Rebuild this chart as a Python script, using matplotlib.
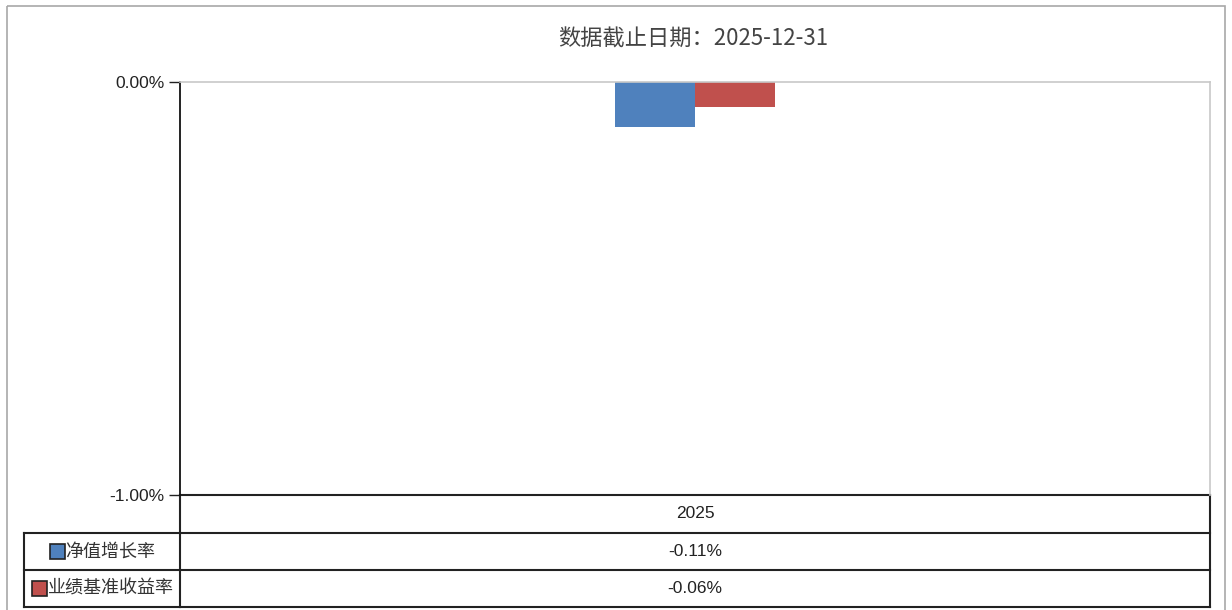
import matplotlib
matplotlib.use("Agg")
import matplotlib.pyplot as plt
from matplotlib.patches import Rectangle

plt.rcParams['font.family'] = ['Noto Sans CJK SC', 'DejaVu Sans']

title = "数据截止日期：2025-12-31"
years = ["2025"]
series_names = ["净值增长率", "业绩基准收益率"]
nav_growth = [-0.11]
benchmark = [-0.06]
series_values = [nav_growth, benchmark]
series_colors = ["#4F81BD", "#C0504D"]
y_ticks = [0.0, -1.0]

W, H = 1232, 610
fig = plt.figure(figsize=(W / 100, H / 100), dpi=100)


def px_axes(x0, y0, x1, y1):
    # pixel box (top-left origin) -> figure fraction
    return [x0 / W, (H - y1) / H, (x1 - x0) / W, (y1 - y0) / H]


# overlay in pixel units for border, title and table
ov = fig.add_axes([0, 0, 1, 1], zorder=0)
ov.set_xlim(0, W)
ov.set_ylim(H, 0)
ov.axis('off')
ov.add_patch(Rectangle((7, 6), 1218, 610, fill=False, edgecolor="#A8A8A8", lw=1.2))

ax_l, ax_t, ax_r, ax_b = 180, 82, 1210, 495
ax = fig.add_axes(px_axes(ax_l, ax_t, ax_r, ax_b), zorder=1)
ax.patch.set_alpha(0)

bar_w = 0.078
for i in range(len(years)):
    ax.bar(i - bar_w / 2, series_values[0][i], bar_w, color=series_colors[0], zorder=2)
    ax.bar(i + bar_w / 2, series_values[1][i], bar_w, color=series_colors[1], zorder=2)

ax.set_xlim(-0.5, len(years) - 0.5)
ax.set_ylim(-1.0, 0.0)
ax.set_xticks([])
ax.set_yticks(y_ticks)
ax.set_yticklabels([f"{v:.2f}%" for v in y_ticks], family='Liberation Sans', fontsize=12.5, color="#222222")
ax.tick_params(axis='y', direction='out', length=8, width=1, pad=3, color="#222222")
ax.spines['left'].set_color('#111111')
ax.spines['left'].set_linewidth(1.3)
for s in ['top', 'right']:
    ax.spines[s].set_color('#C8C8C8')
    ax.spines[s].set_linewidth(1.2)
ax.spines['bottom'].set_visible(False)

ov.text((ax_l + ax_r) / 2 - 2, 39, title, ha='center', va='center', fontsize=16, color="#444444")

# data table below the plot
row_y = [495, 533, 570, 607]
left_col = 24
line_kw = dict(color="#222222", lw=1.5)
for y in row_y:
    ov.plot([ax_l, ax_r], [y, y], **line_kw)
for y in row_y[1:]:
    ov.plot([left_col, ax_l], [y, y], **line_kw)
ov.plot([ax_l, ax_l], [ax_b, row_y[-1]], **line_kw)
ov.plot([ax_r, ax_r], [row_y[0], row_y[-1]], **line_kw)
ov.plot([left_col, left_col], [row_y[1], row_y[-1]], **line_kw)

cx = (ax_l + ax_r) / 2
ov.text(cx, (row_y[0] + row_y[1]) / 2, years[0], ha='center', va='center',
        family='Liberation Sans', fontsize=12.5, color="#222222")

char_w, sq = 18, 15
for k, (name, vals, col) in enumerate(zip(series_names, series_values, series_colors)):
    yc = (row_y[k + 1] + row_y[k + 2]) / 2
    ov.text(cx, yc, f"{vals[0]:.2f}%", ha='center', va='center',
            family='Liberation Sans', fontsize=12.5, color="#222222")
    group_w = sq + char_w * len(name)
    x0 = (left_col + ax_l) / 2 - group_w / 2
    ov.add_patch(Rectangle((x0, yc - sq / 2), sq, sq, facecolor=col, edgecolor="#222222", lw=1.2))
    ov.text(x0 + sq + 1, yc, name, ha='left', va='center', fontsize=13, color="#333333")

fig.savefig("out.png", dpi=100)
